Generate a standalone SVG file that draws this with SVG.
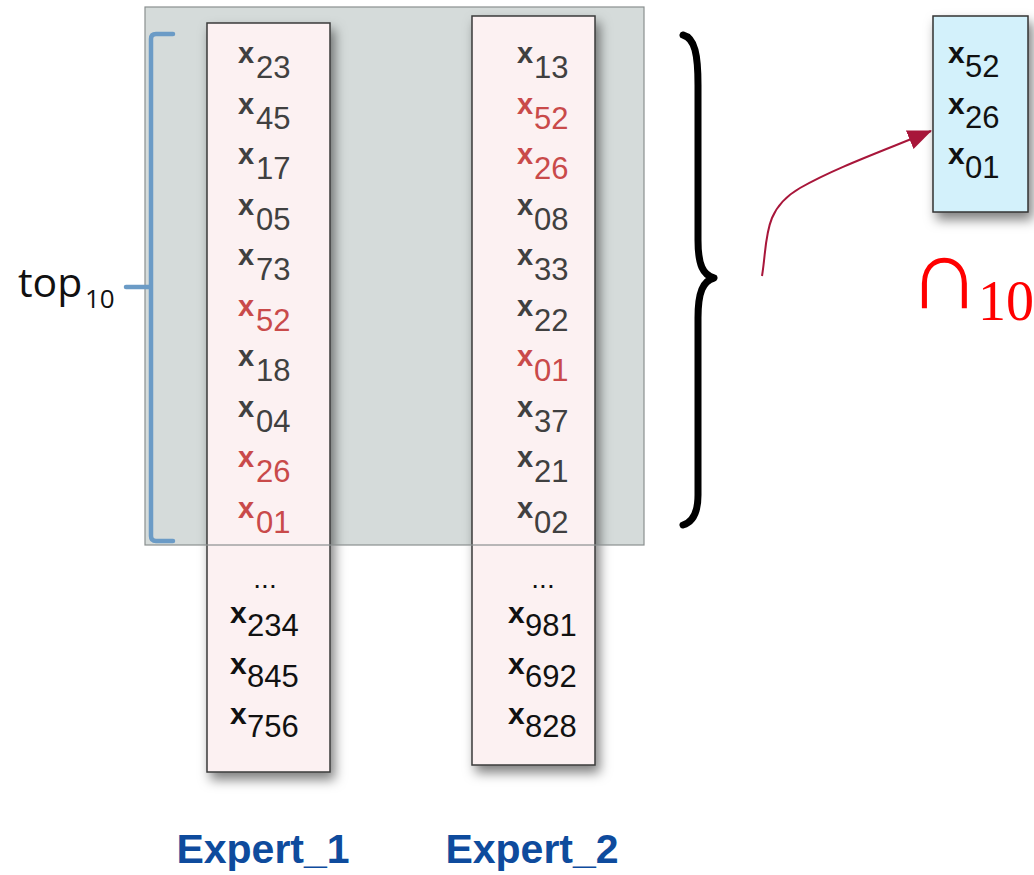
<svg xmlns="http://www.w3.org/2000/svg" width="1034" height="875" viewBox="0 0 1034 875">
<style>
.col{fill:#fcf1f2;stroke:#3a3a3a;stroke-width:1.5}
.xg{font-family:"Liberation Sans",Arial,sans-serif;font-weight:bold;font-size:29px;fill:#404040}
.xr{font-family:"Liberation Sans",Arial,sans-serif;font-weight:bold;font-size:29px;fill:#c94a4a}
.xb{font-family:"Liberation Sans",Arial,sans-serif;font-weight:bold;font-size:30px;fill:#111}
.d{font-weight:normal;font-size:31px}
.dots{font-family:"Liberation Sans",Arial,sans-serif;font-size:28px;fill:#111;text-anchor:middle}
.exp{font-family:"Liberation Sans",Arial,sans-serif;font-weight:bold;font-size:41px;fill:#0e4b9d;text-anchor:middle}
</style>
<defs>
<filter id="sh" x="-20%" y="-10%" width="150%" height="130%">
<feDropShadow dx="4" dy="7" stdDeviation="6" flood-color="#000" flood-opacity="0.5"/>
</filter>
<marker id="ah2" viewBox="0 0 24 20" refX="23" refY="10" markerWidth="24" markerHeight="20" orient="auto" markerUnits="userSpaceOnUse">
<path d="M0,0 L24,10 L0,20 Z" fill="#a8163a"/>
</marker>
</defs>

<g id="topbox-bg">
<rect x="145" y="7" width="499" height="538" fill="#d5dbda"/>
</g>

<g id="expert1">
<rect class="col" x="207" y="23" width="123" height="749" filter="url(#sh)"/>
<text class="xg" x="238" y="63">x<tspan class="d" x="256" y="78">23</tspan></text>
<text class="xg" x="238" y="114">x<tspan class="d" x="256" y="129">45</tspan></text>
<text class="xg" x="238" y="164">x<tspan class="d" x="256" y="179">17</tspan></text>
<text class="xg" x="238" y="215">x<tspan class="d" x="256" y="230">05</tspan></text>
<text class="xg" x="238" y="265">x<tspan class="d" x="256" y="280">73</tspan></text>
<text class="xr" x="238" y="316">x<tspan class="d" x="256" y="331">52</tspan></text>
<text class="xg" x="238" y="366">x<tspan class="d" x="256" y="381">18</tspan></text>
<text class="xg" x="238" y="417">x<tspan class="d" x="256" y="432">04</tspan></text>
<text class="xr" x="238" y="467">x<tspan class="d" x="256" y="482">26</tspan></text>
<text class="xr" x="238" y="518">x<tspan class="d" x="256" y="533">01</tspan></text>
<text class="dots" x="265" y="588">...</text>
<text class="xb" x="230" y="623">x<tspan class="d" x="247" y="636">234</tspan></text>
<text class="xb" x="230" y="674">x<tspan class="d" x="247" y="687">845</tspan></text>
<text class="xb" x="230" y="724">x<tspan class="d" x="247" y="737">756</tspan></text>
</g>

<g id="expert2">
<rect class="col" x="472" y="16" width="123" height="749" filter="url(#sh)"/>
<text class="xg" x="517" y="63">x<tspan class="d" x="534" y="78">13</tspan></text>
<text class="xr" x="517" y="114">x<tspan class="d" x="534" y="129">52</tspan></text>
<text class="xr" x="517" y="164">x<tspan class="d" x="534" y="179">26</tspan></text>
<text class="xg" x="517" y="215">x<tspan class="d" x="534" y="230">08</tspan></text>
<text class="xg" x="517" y="265">x<tspan class="d" x="534" y="280">33</tspan></text>
<text class="xg" x="517" y="316">x<tspan class="d" x="534" y="331">22</tspan></text>
<text class="xr" x="517" y="366">x<tspan class="d" x="534" y="381">01</tspan></text>
<text class="xg" x="517" y="417">x<tspan class="d" x="534" y="432">37</tspan></text>
<text class="xg" x="517" y="467">x<tspan class="d" x="534" y="482">21</tspan></text>
<text class="xg" x="517" y="518">x<tspan class="d" x="534" y="533">02</tspan></text>
<text class="dots" x="543" y="588">...</text>
<text class="xb" x="508" y="623">x<tspan class="d" x="525" y="636">981</tspan></text>
<text class="xb" x="508" y="674">x<tspan class="d" x="525" y="687">692</tspan></text>
<text class="xb" x="508" y="724">x<tspan class="d" x="525" y="737">828</tspan></text>
</g>

<g id="topbox-border">
<rect x="145" y="7" width="499" height="538" fill="none" stroke="#8a8f8f" stroke-width="1.2"/>
</g>

<g id="top10-bracket">
<path d="M173,34 L156,34 Q151,34 151,39 L151,536 Q151,541 156,541 L173,541 M151,287 L126,287" fill="none" stroke="#6b9bc6" stroke-width="4.5" stroke-linecap="round"/>
<text x="18" y="297" font-family="'Open Sans','Liberation Sans',sans-serif" font-size="41" fill="#111">top<tspan x="85" y="308" font-size="26">10</tspan></text>
</g>

<g id="brace">
<path d="M683,35 C695,38 698,55 698,85 L698,240 C698,265 703,275 714,278 C703,281 698,292 698,318 L698,495 C698,512 693,522 683,525" fill="none" stroke="#000" stroke-width="7" stroke-linecap="round" stroke-linejoin="round"/>
</g>

<g id="connectors">
<path d="M762,276 C768,240 762,210 800,188 C835,168 880,152 931,131" fill="none" stroke="#a8163a" stroke-width="2" marker-end="url(#ah2)"/>
</g>

<g id="result">
<rect x="933" y="16" width="95" height="196" fill="#d3f1fb" stroke="#333" stroke-width="1.5" filter="url(#sh)"/>
<text class="xb" x="948" y="63">x<tspan class="d" x="965" y="77">52</tspan></text>
<text class="xb" x="948" y="114">x<tspan class="d" x="965" y="128">26</tspan></text>
<text class="xb" x="948" y="164">x<tspan class="d" x="965" y="178">01</tspan></text>
</g>

<g id="cap-label">
<text x="908" y="308" font-family="'Liberation Serif','DejaVu Serif',serif" font-size="100" fill="#ff0000">∩</text>
<text x="978" y="320" font-family="'Liberation Serif',serif" font-size="56" fill="#ff0000">10</text>
</g>

<g id="labels">
<text class="exp" x="263" y="863">Expert_1</text>
<text class="exp" x="532" y="863">Expert_2</text>
</g>
</svg>
